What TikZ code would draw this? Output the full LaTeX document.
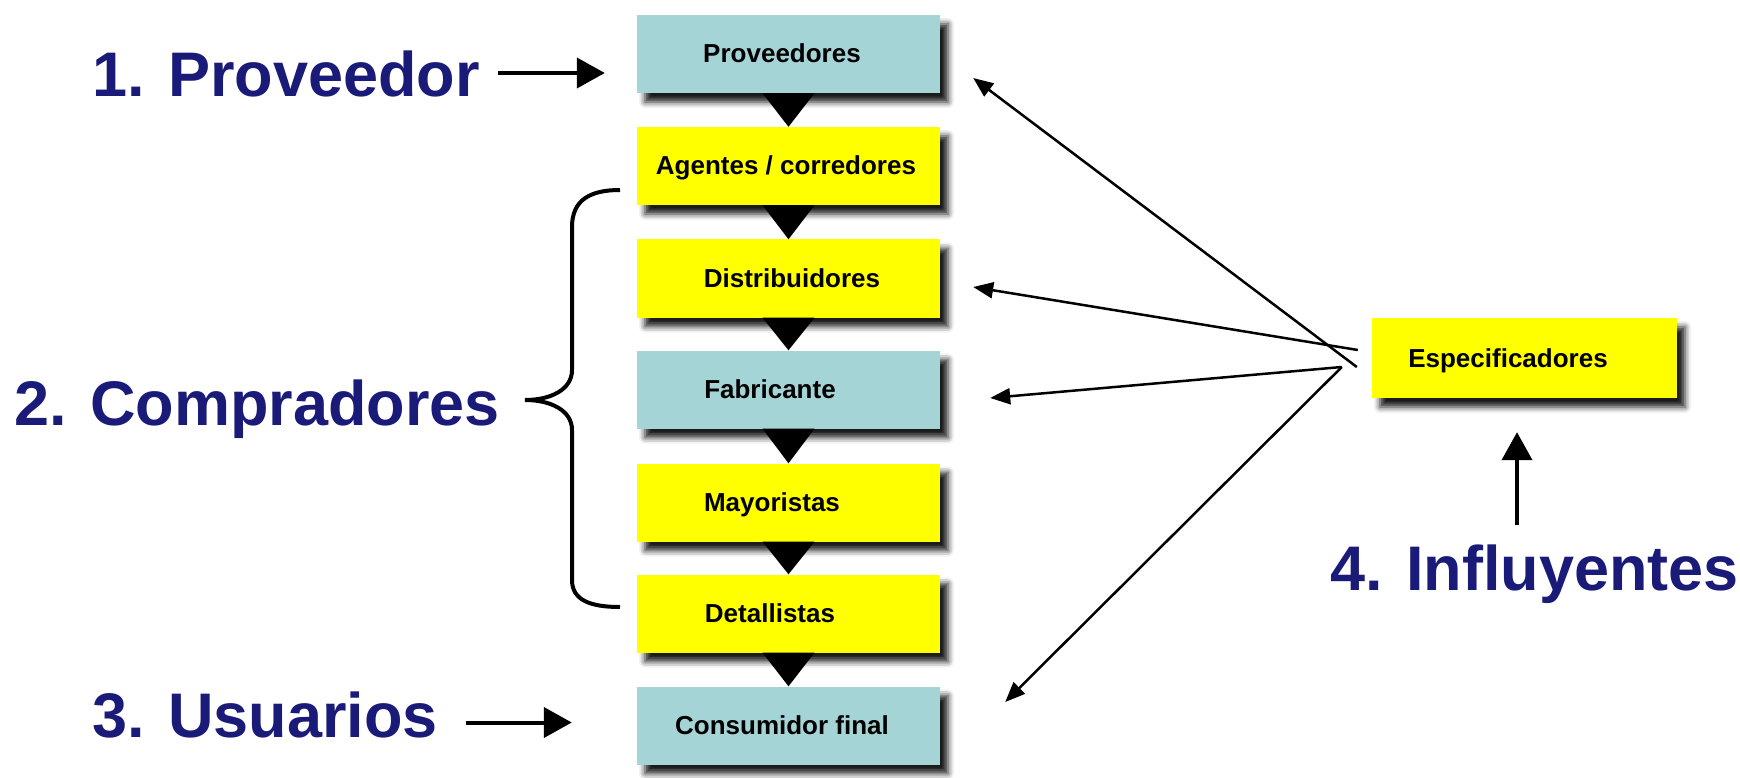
\documentclass[tikz,border=0pt]{standalone}
\usepackage{fontspec}
\setmainfont{Liberation Sans}
\usetikzlibrary{arrows.meta,shadows.blur}
\definecolor{navy}{RGB}{26,26,120}
\definecolor{boxblue}{RGB}{165,212,215}
\definecolor{boxyellow}{RGB}{255,255,0}
\begin{document}
\begin{tikzpicture}[x=1pt,y=-1pt,
  box/.style={draw=none, minimum width=303pt, minimum height=78pt, inner sep=0pt,
    blur shadow={shadow xshift=8pt, shadow yshift=-9pt, shadow blur radius=6pt, shadow opacity=90}},
  ybox/.style={box, fill=boxyellow},
  bbox/.style={box, fill=boxblue},
  btext/.style={font=\fontsize{26}{31}\selectfont\bfseries, anchor=base, inner sep=0pt},
  lbl/.style={font=\fontsize{63}{76}\selectfont\bfseries, text=navy, anchor=base west, inner sep=0pt},
  bigarrow/.style={line width=4pt, -{Triangle[length=28pt,width=30pt]}},
  thinarrow/.style={line width=2.5pt, -{Triangle[length=20pt,width=16pt]}},
  flowtri/.style={fill=black}]
\useasboundingbox (0,0) rectangle (1740,778);

% boxes
\node[bbox] (b1) at (788.5,54) {};
\node[ybox] (b2) at (788.5,166) {};
\node[ybox] (b3) at (788.5,278.5) {};
\node[bbox] (b4) at (788.5,389.5) {};
\node[ybox] (b5) at (788.5,502.5) {};
\node[ybox] (b6) at (788.5,613.5) {};
\node[bbox] (b7) at (788.5,725.5) {};
\node[ybox, minimum width=305pt, minimum height=80pt] (b8) at (1524.5,358) {};

% flow triangles
\fill[flowtri] ([xshift=-26pt]b1.south) -- ([xshift=26pt]b1.south) -- (b2.north) -- cycle;
\fill[flowtri] ([xshift=-26pt]b2.south) -- ([xshift=26pt]b2.south) -- (b3.north) -- cycle;
\fill[flowtri] ([xshift=-26pt]b3.south) -- ([xshift=26pt]b3.south) -- (b4.north) -- cycle;
\fill[flowtri] ([xshift=-26pt]b4.south) -- ([xshift=26pt]b4.south) -- (b5.north) -- cycle;
\fill[flowtri] ([xshift=-26pt]b5.south) -- ([xshift=26pt]b5.south) -- (b6.north) -- cycle;
\fill[flowtri] ([xshift=-26pt]b6.south) -- ([xshift=26pt]b6.south) -- (b7.north) -- cycle;

% box texts
\node[btext] (t1) at (782,63) {Proveedores};
\node[btext] (t2) at (786,175) {Agentes / corredores};
\node[btext] (t3) at (792,287.5) {Distribuidores};
\node[btext] (t4) at (770,398.5) {Fabricante};
\node[btext] (t5) at (772,511.5) {Mayoristas};
\node[btext] (t6) at (770,622.5) {Detallistas};
\node[btext] (t7) at (782,734.5) {Consumidor final};
\node[btext] (t8) at (1508,367) {Especificadores};

% labels
\node[lbl] (l1) at (92,97) {1. Proveedor};
\node[lbl] (l2) at (14,425) {2. Compradores};
\node[lbl] (l3) at (92,737) {3. Usuarios};
\node[lbl] (l4) at (1330,590) {4. Influyentes};

% label arrows
\draw[bigarrow] ([xshift=18pt,yshift=24pt]l1.base east) -- ([xshift=-32pt,yshift=-19pt]b1.west);
\draw[bigarrow] ([xshift=28pt,yshift=14.5pt]l3.base east) -- ([xshift=-65pt,yshift=3pt]b7.west);
\draw[bigarrow] ([xshift=187pt,yshift=65pt]l4.base west) -- ([xshift=-7.5pt,yshift=-34pt]b8.south);

% influence arrows
\draw[thinarrow] ([xshift=-15pt,yshift=-9pt]b8.west) -- ([xshift=33pt,yshift=-24pt]b1.east);
\draw[thinarrow] ([xshift=-14pt,yshift=8pt]b8.west) -- ([xshift=33pt,yshift=-8.5pt]b3.east);
\draw[thinarrow] ([xshift=-30pt,yshift=-9pt]b8.west) -- ([xshift=50pt,yshift=-8.5pt]b4.east);
\draw[thinarrow] ([xshift=-30pt,yshift=-9pt]b8.west) -- ([xshift=65pt,yshift=23.5pt]b7.east);

% brace
\draw[line width=4pt] (620,190) .. controls (590,190) and (572,200) .. (572,227) -- (572,370)
  .. controls (572,390) and (550,400) .. (525,400)
  .. controls (550,400) and (572,410) .. (572,430) -- (572,580)
  .. controls (572,600) and (590,607) .. (620,607);
\end{tikzpicture}
\end{document}
